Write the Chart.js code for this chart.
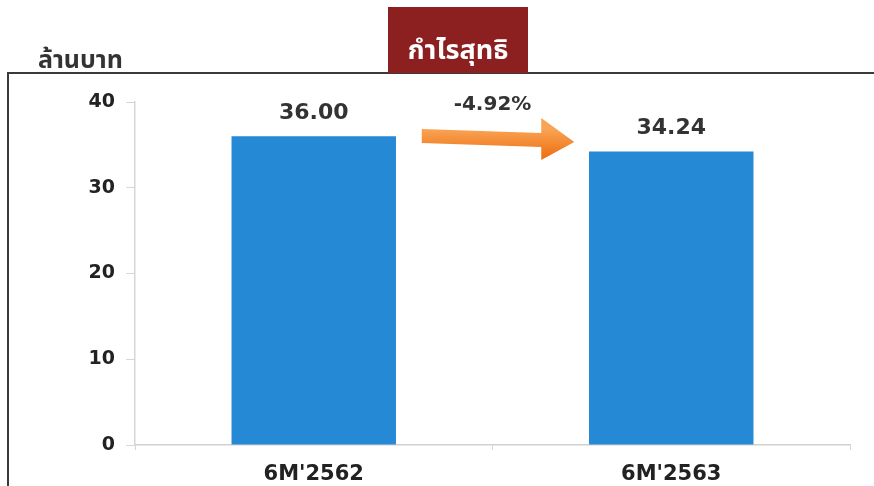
<!DOCTYPE html>
<html>
<head>
<meta charset="utf-8">
<script src="https://cdn.jsdelivr.net/npm/chart.js@4"></script>
<style>
  html, body { margin: 0; padding: 0; background: #fff; }
  #wrap { width: 874px; height: 486px; position: relative; }
</style>
</head>
<body>
<div id="wrap"><canvas id="profitChart" width="874" height="486"></canvas></div>
<script>
// data
const categories = ["6M'2562", "6M'2563"];
const netProfit = [36.00, 34.24];
const changeLabel = '-4.92%';
const yTicks = [0, 10, 20, 30, 40];
const chartTitle = 'กำไรสุทธิ';
const unitLabel = 'ล้านบาท';

const boldFont = 'DejaVu Sans, Verdana, sans-serif';
const thaiFont = '"Noto Sans Thai", "Noto Sans", Tahoma, sans-serif';

// Frame, title box, unit label, value labels and change arrow
const decorations = {
    id: 'decorations',
    beforeDraw(chart) {
        const ctx = chart.ctx;
        ctx.save();
        ctx.strokeStyle = '#3a3a3a';
        ctx.lineWidth = 2;
        ctx.beginPath();
        ctx.moveTo(8, 490);
        ctx.lineTo(8, 73);
        ctx.lineTo(880, 73);
        ctx.stroke();

        // title box
        ctx.fillStyle = '#8c1f1f';
        ctx.fillRect(388, 7, 140, 66);
        ctx.fillStyle = '#ffffff';
        ctx.font = 'bold 27px ' + thaiFont;
        ctx.textAlign = 'center';
        ctx.textBaseline = 'alphabetic';
        ctx.fillText(chartTitle, 458, 59);

        // unit
        ctx.fillStyle = '#333333';
        ctx.font = 'bold 25px ' + thaiFont;
        ctx.textAlign = 'left';
        ctx.fillText(unitLabel, 38, 68);
        ctx.restore();
    },
    afterDatasetsDraw(chart) {
        const ctx = chart.ctx;
        const meta = chart.getDatasetMeta(0);
        const x = chart.scales.x;
        const y = chart.scales.y;
        ctx.save();
        ctx.fillStyle = '#333333';
        ctx.font = 'bold 22px ' + boldFont;
        ctx.textAlign = 'center';
        ctx.textBaseline = 'bottom';
        meta.data.forEach((bar, i) => {
            ctx.fillText(netProfit[i].toFixed(2), bar.x, bar.y - 12);
        });

        // arrow between bars
        const x0 = meta.data[0].x + 108;
        const x1 = meta.data[1].x - 97;
        const yc = y.getPixelForValue(35);
        const headW = 33;
        const grad = ctx.createLinearGradient(0, yc - 16, 0, yc + 10);
        grad.addColorStop(0, '#f9a455');
        grad.addColorStop(1, '#ee7417');
        ctx.fillStyle = grad;
        ctx.beginPath();
        ctx.moveTo(x0, yc - 16);
        ctx.lineTo(x1 - headW, yc - 12);
        ctx.lineTo(x1 - headW, yc - 27);
        ctx.lineTo(x1, yc - 3);
        ctx.lineTo(x1 - headW, yc + 15);
        ctx.lineTo(x1 - headW, yc + 2);
        ctx.lineTo(x0, yc - 2);
        ctx.closePath();
        ctx.fill();

        ctx.fillStyle = '#333333';
        ctx.font = 'bold 20px ' + boldFont;
        ctx.textBaseline = 'middle';
        ctx.fillText(changeLabel, (x.getPixelForValue(0) + x.getPixelForValue(1)) / 2, 105);
        ctx.restore();
    }
};

new Chart(document.getElementById('profitChart'), {
    type: 'bar',
    data: {
        labels: categories,
        datasets: [{
            data: netProfit,
            backgroundColor: '#2589d5',
            borderWidth: 0,
            categoryPercentage: 1,
            barPercentage: 0.46
        }]
    },
    options: {
        responsive: false,
        animation: false,
        events: [],
        layout: { padding: { left: 0, top: 102, right: 24, bottom: 0 } },
        plugins: {
            legend: { display: false },
            tooltip: { enabled: false }
        },
        scales: {
            x: {
                grid: {
                    offset: true,
                    drawOnChartArea: false,
                    drawTicks: true,
                    tickLength: 5,
                    color: '#d6d6d6'
                },
                border: { color: '#d0d0d0', width: 1.5 },
                ticks: {
                    color: '#222222',
                    font: { family: boldFont, size: 21, weight: 'bold' },
                    padding: 12
                },
                afterFit(scale) { scale.height = 41; }
            },
            y: {
                min: 0,
                max: 40,
                afterBuildTicks(scale) { scale.ticks = yTicks.map(v => ({ value: v })); },
                grid: {
                    drawOnChartArea: false,
                    drawTicks: true,
                    tickLength: 9,
                    color: '#d6d6d6'
                },
                border: { color: '#d6d6d6', width: 1.5 },
                ticks: {
                    color: '#222222',
                    font: { family: boldFont, size: 19, weight: 'bold' },
                    padding: 11
                },
                afterFit(scale) { scale.width = 135; }
            }
        }
    },
    plugins: [decorations]
});
</script>
</body>
</html>
